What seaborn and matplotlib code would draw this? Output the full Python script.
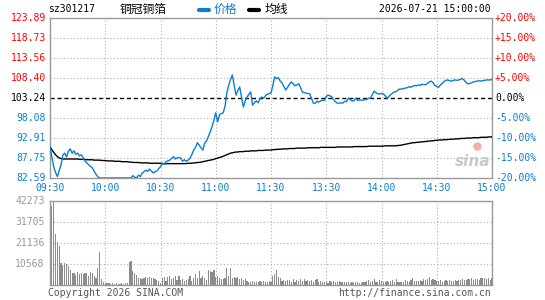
import numpy as np
import pandas as pd
import matplotlib
matplotlib.use("Agg")
import matplotlib.pyplot as plt
import seaborn as sns

sns.set_theme(style="white")
plt.rcParams['font.family'] = ['DejaVu Sans Mono', 'Noto Sans CJK SC']

# ---------------- data ----------------
code = "sz301217"
name = "铜冠铜箔"
legend_price = "价格"
legend_avg = "均线"
stamp = "2026-07-21 15:00:00"
prev_close = 103.24

price_ticks = [123.89, 118.73, 113.56, 108.40, 103.24, 98.08, 92.91, 87.75, 82.59]
price_tick_labels = ["123.89", "118.73", "113.56", "108.40", "103.24", "98.08", "92.91", "87.75", "82.59"]
pct_labels = ["+20.00%", "+15.00%", "+10.00%", "+5.00%", "0.00%", "-5.00%", "-10.00%", "-15.00%", "-20.00%"]
time_labels = ["09:30", "10:00", "10:30", "11:00", "11:30", "13:30", "14:00", "14:30", "15:00"]
vol_ticks = [42273, 31705, 21136, 10568]
vol_tick_labels = ["42273", "31705", "21136", "10568"]

price = [
    90.6, 88.0, 85.5, 84.0, 83.0, 84.5, 86.0, 88.5, 89.0, 88.0,
    89.5, 90.1, 89.0, 89.6, 88.7, 89.0, 88.3, 88.6, 87.8, 87.0,
    86.5, 86.0, 85.6, 85.2, 84.3, 83.5, 82.9, 82.59, 82.59, 82.59,
    82.59, 82.59, 82.59, 82.59, 82.59, 82.59, 82.59, 82.59, 82.59, 82.59,
    82.59, 82.59, 82.59, 82.59, 82.59, 83.2, 82.8, 82.59, 83.3, 83.0,
    83.8, 84.2, 84.6, 84.3, 84.9, 84.4, 83.9, 84.2, 84.4, 85.0,
    85.5, 86.4, 86.1, 86.8, 87.0, 87.2, 87.6, 88.1, 87.5, 87.75,
    87.9, 87.75, 86.9, 87.3, 86.9, 87.2, 87.7, 88.6, 89.8, 90.5,
    91.7, 91.1, 90.4, 89.8, 91.6, 92.2, 93.3, 94.5, 95.9, 97.5,
    99.4, 97.1, 98.9, 99.2, 99.4, 101.0, 104.5, 106.5, 108.0, 109.2,
    106.5, 104.0, 105.2, 106.1, 103.5, 100.9, 102.5, 103.5, 104.2, 104.8,
    101.4, 102.0, 102.5, 102.0, 103.0, 103.5, 103.2, 103.8, 104.2, 104.4,
    104.5, 106.5, 108.7, 108.2, 108.5, 107.6, 107.1, 106.2, 105.3, 106.0,
    106.8, 107.4, 106.9, 106.4, 106.6, 106.9, 106.0, 104.8, 104.6, 104.5,
    104.4, 104.3, 103.2, 101.9, 101.9, 102.4, 102.2, 102.5, 102.7, 102.6,
    103.6, 104.0, 103.8, 103.5, 102.8, 102.3, 101.9, 101.9, 102.0, 101.9,
    102.4, 102.3, 103.2, 102.9, 102.5, 102.5, 103.2, 102.6, 102.7, 102.7,
    102.7, 102.8, 102.9, 103.2, 103.2, 104.1, 105.0, 104.6, 104.3, 104.3,
    104.4, 104.3, 103.8, 103.2, 103.6, 104.1, 104.5, 104.8, 104.9, 105.3,
    105.6, 105.5, 105.7, 105.8, 105.9, 106.2, 106.0, 106.3, 106.5, 106.4,
    106.6, 106.5, 106.8, 106.7, 106.7, 107.0, 107.4, 107.6, 107.2, 106.5,
    106.2, 106.0, 106.6, 107.0, 107.5, 107.8, 107.9, 107.7, 107.6, 107.8,
    107.9, 107.8, 107.9, 108.1, 108.2, 107.8, 107.2, 106.9, 107.0, 107.2,
    107.4, 107.5, 107.6, 107.7, 107.6, 107.7, 107.8, 107.9, 107.9, 107.9,
    108.0,
]

avg = [
    90.6, 89.9, 89.2, 88.6, 88.1, 87.8, 87.6, 87.5, 87.5, 87.5,
    87.5, 87.5, 87.5, 87.5, 87.5, 87.5, 87.4, 87.4, 87.4, 87.4,
    87.3, 87.3, 87.3, 87.3, 87.2, 87.2, 87.2, 87.2, 87.1, 87.1,
    87.1, 87.0, 87.0, 87.0, 87.0, 86.9, 86.9, 86.9, 86.9, 86.8,
    86.8, 86.8, 86.8, 86.7, 86.7, 86.6, 86.6, 86.6, 86.6, 86.5,
    86.5, 86.5, 86.5, 86.5, 86.4, 86.4, 86.4, 86.4, 86.4, 86.4,
    86.4, 86.3, 86.3, 86.3, 86.3, 86.3, 86.3, 86.3, 86.3, 86.3,
    86.3, 86.3, 86.3, 86.3, 86.3, 86.4, 86.4, 86.4, 86.5, 86.5,
    86.6, 86.6, 86.7, 86.8, 86.9, 87.0, 87.1, 87.2, 87.3, 87.4,
    87.6, 87.7, 87.9, 88.0, 88.2, 88.4, 88.6, 88.8, 89.0, 89.1,
    89.2, 89.3, 89.3, 89.4, 89.4, 89.4, 89.5, 89.5, 89.5, 89.6,
    89.6, 89.6, 89.6, 89.7, 89.7, 89.7, 89.7, 89.8, 89.8, 89.8,
    89.8, 89.9, 89.9, 90.0, 90.0, 90.0, 90.1, 90.1, 90.1, 90.1,
    90.2, 90.2, 90.2, 90.2, 90.3, 90.3, 90.3, 90.3, 90.3, 90.3,
    90.4, 90.4, 90.4, 90.4, 90.4, 90.4, 90.4, 90.5, 90.5, 90.5,
    90.5, 90.5, 90.5, 90.5, 90.5, 90.5, 90.6, 90.6, 90.6, 90.6,
    90.6, 90.6, 90.6, 90.6, 90.6, 90.7, 90.7, 90.7, 90.7, 90.7,
    90.7, 90.7, 90.7, 90.8, 90.8, 90.8, 90.8, 90.8, 90.8, 90.8,
    90.8, 90.8, 90.9, 90.9, 90.9, 90.9, 90.9, 90.9, 90.9, 91.0,
    91.0, 91.1, 91.2, 91.3, 91.4, 91.5, 91.6, 91.7, 91.7, 91.8,
    91.8, 91.9, 91.9, 92.0, 92.0, 92.1, 92.1, 92.2, 92.2, 92.3,
    92.3, 92.4, 92.4, 92.4, 92.5, 92.5, 92.5, 92.6, 92.6, 92.6,
    92.7, 92.7, 92.7, 92.8, 92.8, 92.8, 92.9, 92.9, 92.9, 92.9,
    93.0, 93.0, 93.0, 93.0, 93.1, 93.1, 93.1, 93.1, 93.2, 93.2,
    93.2,
]

volume = [
    16200, 39800, 42273, 25700, 21600, 19700, 11200, 10200, 11000, 10800,
    9500, 7800, 5800, 6200, 5000, 6500, 5600, 6000, 5500, 6100,
    5800, 4500, 6400, 6100, 4300, 3700, 8700, 16800, 3200, 1500,
    1200, 900, 800, 700, 800, 700, 900, 600, 700, 800,
    700, 900, 1000, 11800, 12300, 6900, 5800, 4800, 3400, 3600,
    3100, 3500, 3800, 3600, 3800, 3400, 3700, 3000, 2600, 1800,
    1200, 3600, 4200, 2000, 3900, 4400, 3000, 3600, 4600, 2300,
    4700, 2500, 3100, 2200, 2400, 3000, 4500, 2000, 3300, 5500,
    3300, 7000, 3500, 4300, 3700, 2300, 7400, 7000, 6400, 7600,
    3800, 4500, 3400, 3200, 3100, 3700, 8800, 4500, 8500, 3700,
    4000, 3500, 3800, 3000, 3300, 2500, 3200, 1800, 1600, 1700,
    1800, 1300, 1600, 1500, 1800, 1300, 2200, 1700, 1400, 2100,
    1300, 4300, 5300, 7300, 4200, 3300, 2000, 2600, 1800, 2300,
    2500, 1700, 2800, 1500, 2400, 2000, 3200, 2200, 2800, 2000,
    2300, 1800, 2600, 1700, 2400, 2900, 1500, 2000, 1300, 1500,
    1700, 1200, 2000, 1500, 1800, 1300, 1600, 1900, 1400, 1700,
    1500, 1300, 1600, 1200, 1400, 1100, 1500, 1300, 1000, 1200,
    1600, 1400, 1900, 2300, 1500, 2100, 3100, 1700, 1500, 2600,
    1800, 1400, 1700, 2000, 1500, 1800, 2400, 1600, 2800, 1300,
    1500, 1600, 1400, 2500, 2100, 1700, 2700, 3300, 2000, 1800,
    2200, 2600, 1900, 3100, 2300, 2800, 3800, 2600, 2900, 2700,
    2000, 1800, 2400, 1600, 2100, 2600, 2000, 2300, 1800, 2200,
    2400, 2100, 2600, 2500, 2900, 2300, 2700, 3100, 2800, 3400,
    2600, 3000, 3200, 2700, 3500, 3300, 3700, 3100, 3600, 2500,
    3700,
]

minutes = list(range(len(price)))
df = pd.DataFrame({"m": minutes, "price": price, "avg": avg, "vol": volume})

# ---------------- styling ----------------
W, H = 545, 300
RED = "#ff0000"
BLUE = "#0a7fd0"
LINEBLUE = "#0a7fd0"
GRAY = "#999999"
BARGRAY = "#8c8c8c"
GRID = "#b0b0b0"
FS = 7
X0, X1 = 50, 492

fig = plt.figure(figsize=(W / 100, H / 100), dpi=100)
fig.patch.set_facecolor("white")

def box(x0, y0, x1, y1):
    return [x0 / W, 1 - y1 / H, (x1 - x0) / W, (y1 - y0) / H]

ax = fig.add_axes(box(X0, 18, X1, 178))
axv = fig.add_axes(box(X0, 201, X1, 285))

for a in (ax, axv):
    a.set_facecolor("white")
    for s in a.spines.values():
        s.set_color(GRAY)
        s.set_linewidth(1.0)
    a.set_xticks([])
    a.set_yticks([])
    a.set_xlim(0, 240)

# price panel grid
ax.set_ylim(price_ticks[-1], price_ticks[0])
for t in price_ticks[1:-1]:
    if abs(t - prev_close) < 1e-6:
        ax.axhline(t, color="black", lw=1.0, ls=(0, (3, 2)), zorder=1)
    else:
        ax.axhline(t, color=GRID, lw=0.8, ls=(0, (1, 2)), zorder=1)
for m in range(30, 240, 30):
    ax.axvline(m, color=GRID, lw=0.8, ls=(0, (1, 2)), zorder=1)
    axv.axvline(m, color=GRID, lw=0.8, ls=(0, (1, 2)), zorder=1)

# watermark
ax.text(0.955, 0.1, "sina", transform=ax.transAxes, ha="center", va="center",
        fontsize=11, fontstyle="italic", fontweight="bold", color="#c8c8c8",
        family="DejaVu Sans", zorder=1)
ax.plot([0.965], [0.2], transform=ax.transAxes, marker="o", ms=5,
        color="#f0b0b0", zorder=1)

sns.lineplot(data=df, x="m", y="avg", ax=ax, color="black", lw=1.0, zorder=3)
sns.lineplot(data=df, x="m", y="price", ax=ax, color=LINEBLUE, lw=1.0, zorder=4)
ax.set_xlabel("")
ax.set_ylabel("")
ax.set_xticks([])
ax.set_yticks([])
ax.set_xlim(0, 240)
ax.set_ylim(price_ticks[-1], price_ticks[0])

# price labels
for t, lab, pl in zip(price_ticks, price_tick_labels, pct_labels):
    if t > prev_close + 1e-6:
        c = RED
    elif abs(t - prev_close) < 1e-6:
        c = "black"
    else:
        c = BLUE
    ax.text(-0.009, t, lab, transform=ax.get_yaxis_transform(), ha="right",
            va="center", fontsize=FS, color=c)
    ax.text(1.007, t, pl, transform=ax.get_yaxis_transform(), ha="left",
            va="center", fontsize=FS, color=c)

# time labels (below the price panel)
ty_time = 1 - 188 / H
for i, lab in enumerate(time_labels):
    xm = X0 + (i * 30) * (X1 - X0) / 240
    fig.text(xm / W, ty_time, lab, ha="center", va="center", fontsize=FS, color=BLUE)

# volume panel
axv.set_ylim(0, vol_ticks[0])
for t in vol_ticks[1:]:
    axv.axhline(t, color=GRID, lw=0.8, ls=(0, (1, 2)), zorder=1)
sns.barplot(data=df, x="m", y="vol", ax=axv, native_scale=True, color=BARGRAY,
            width=0.65, linewidth=0, saturation=1, zorder=2)
axv.set_xlabel("")
axv.set_ylabel("")
axv.set_xticks([])
axv.set_yticks([])
axv.set_xlim(0, 240)
axv.set_ylim(0, vol_ticks[0])
for t, lab in zip(vol_ticks, vol_tick_labels):
    axv.text(-0.012, t, lab, transform=axv.get_yaxis_transform(), ha="right",
             va="center", fontsize=FS, color=GRAY)

# header
ty = 1 - 9.5 / H
fig.text(48 / W, ty, code, ha="left", va="center", fontsize=FS, color="black")
fig.text(120 / W, ty, name, ha="left", va="center", fontsize=8.5, color="black",
         family=["Noto Sans CJK SC", "DejaVu Sans"])
fig.add_artist(plt.Line2D([199 / W, 209 / W], [ty, ty], color=LINEBLUE, lw=3))
fig.text(214 / W, ty, legend_price, ha="left", va="center", fontsize=8.5, color=BLUE,
         family=["Noto Sans CJK SC", "DejaVu Sans"])
fig.add_artist(plt.Line2D([249 / W, 259 / W], [ty, ty], color="black", lw=3))
fig.text(265 / W, ty, legend_avg, ha="left", va="center", fontsize=8.5, color="black",
         family=["Noto Sans CJK SC", "DejaVu Sans"])
fig.text(491 / W, ty, stamp, ha="right", va="center", fontsize=FS, color="black")

# footer
fy = 1 - 293 / H
fig.text(48 / W, fy, "Copyright 2026 SINA.COM", ha="left", va="center", fontsize=FS, color="#555555")
fig.text(491 / W, fy, "http://finance.sina.com.cn", ha="right", va="center", fontsize=FS, color="#555555")

fig.savefig("out.png", dpi=100, facecolor="white")
